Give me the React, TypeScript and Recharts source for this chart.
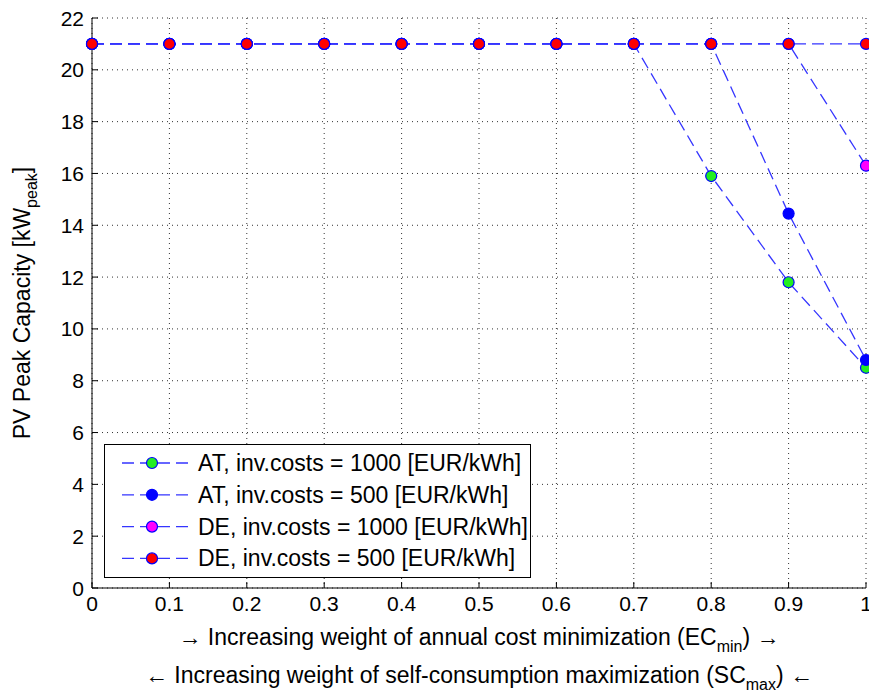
import React from 'react';
import { LineChart, Line, XAxis, YAxis, CartesianGrid, Legend } from 'recharts';

const weights = [0, 0.1, 0.2, 0.3, 0.4, 0.5, 0.6, 0.7, 0.8, 0.9, 1];
const atHigh = [21, 21, 21, 21, 21, 21, 21, 21, 15.9, 11.8, 8.5];
const atLow = [21, 21, 21, 21, 21, 21, 21, 21, 21, 14.45, 8.8];
const deHigh = [21, 21, 21, 21, 21, 21, 21, 21, 21, 21, 16.3];
const deLow = [21, 21, 21, 21, 21, 21, 21, 21, 21, 21, 21];
const yTicks = [0, 2, 4, 6, 8, 10, 12, 14, 16, 18, 20, 22];
const xTickLabels = ['0', '0.1', '0.2', '0.3', '0.4', '0.5', '0.6', '0.7', '0.8', '0.9', '1'];

const series = [
	{ key: 'atHigh', name: 'AT, inv.costs = 1000 [EUR/kWh]', fill: '#22ee22', values: atHigh },
	{ key: 'atLow', name: 'AT, inv.costs = 500 [EUR/kWh]', fill: '#0000ff', values: atLow },
	{ key: 'deHigh', name: 'DE, inv.costs = 1000 [EUR/kWh]', fill: '#ff00ff', values: deHigh },
	{ key: 'deLow', name: 'DE, inv.costs = 500 [EUR/kWh]', fill: '#ff0000', values: deLow },
];

const data = weights.map((w, i) => {
	const row: Record<string, number> = { w };
	series.forEach(s => { row[s.key] = s.values[i]; });
	return row;
});

const FONT = '"Liberation Sans", Arial, sans-serif';
const LINE = '#3535ff';
const TICK_LEN = 6;

const BottomTick = (props: any) => {
	const { x, y, payload, index } = props;
	return (
		<g>
			<line x1={x} y1={y} x2={x} y2={y - TICK_LEN} stroke="#000" />
			<text x={x} y={y + 23} textAnchor="middle" fontSize={21} fontFamily={FONT} fill="#000">
				{xTickLabels[index] ?? payload.value}
			</text>
		</g>
	);
};

const TopTick = (props: any) => {
	const { x, y } = props;
	return <line x1={x} y1={y} x2={x} y2={y + TICK_LEN} stroke="#000" />;
};

const LeftTick = (props: any) => {
	const { x, y, payload } = props;
	return (
		<g>
			<line x1={x} y1={y} x2={x + TICK_LEN} y2={y} stroke="#000" />
			<text x={x - 8} y={y + 7.5} textAnchor="end" fontSize={21} fontFamily={FONT} fill="#000">
				{payload.value}
			</text>
		</g>
	);
};

const RightTick = (props: any) => {
	const { x, y } = props;
	return <line x1={x} y1={y} x2={x - TICK_LEN} y2={y} stroke="#000" />;
};

const XTitle = (props: any) => {
	const { viewBox } = props;
	const cx = viewBox.x + viewBox.width / 2;
	const y0 = viewBox.y;
	return (
		<g fontFamily={FONT} fontSize={23} fill="#000">
			<text x={cx} y={y0 + 57} textAnchor="middle">
				→ Increasing weight of annual cost minimization (EC
				<tspan dy={7} fontSize={16}>min</tspan>
				<tspan dy={-7}>) →</tspan>
			</text>
			<text x={cx} y={y0 + 95} textAnchor="middle">
				← Increasing weight of self-consumption maximization (SC
				<tspan dy={7} fontSize={16}>max</tspan>
				<tspan dy={-7}>) ←</tspan>
			</text>
		</g>
	);
};

const YTitle = (props: any) => {
	const { viewBox } = props;
	const cx = 30;
	const cy = viewBox.y + viewBox.height / 2;
	return (
		<text
			x={cx}
			y={cy}
			textAnchor="middle"
			transform={`rotate(-90, ${cx}, ${cy})`}
			fontFamily={FONT}
			fontSize={23}
			fill="#000"
		>
			PV Peak Capacity [kW
			<tspan dy={7} fontSize={16}>peak</tspan>
			<tspan dy={-7}>]</tspan>
		</text>
	);
};

const Marker = (color: string) => (props: any) => {
	const { cx, cy, index } = props;
	if (cx == null || cy == null) return <g key={index} />;
	return <circle key={index} cx={cx} cy={cy} r={5.5} fill={color} stroke="#0000ff" strokeWidth={1.2} />;
};

const LegendBox = () => (
	<svg width={428} height={135} style={{ display: 'block' }}>
		<rect x={0.5} y={0.5} width={426} height={133} fill="#fff" stroke="#000" />
		{series.map((s, i) => {
			const cy = 19 + i * 31.8;
			return (
				<g key={s.key}>
					<line x1={18} y1={cy} x2={86} y2={cy} stroke={LINE} strokeWidth={1.3} strokeDasharray="12 6" />
					<circle cx={48} cy={cy} r={5.5} fill={s.fill} stroke="#0000ff" strokeWidth={1.2} />
					<text x={94} y={cy + 8} fontFamily={FONT} fontSize={23} fill="#000">{s.name}</text>
				</g>
			);
		})}
	</svg>
);

export default function App() {
	return (
		<div style={{ position: 'absolute', left: 0, top: 0, width: 869, height: 694, background: '#fff' }}>
			<LineChart width={869} height={694} data={data} margin={{ top: 18, right: 3, left: 0, bottom: 0 }}>
				<CartesianGrid stroke="#333" strokeDasharray="1 4" />
				<XAxis
					dataKey="w"
					type="number"
					domain={[0, 1]}
					ticks={weights}
					interval={0}
					height={106}
					tickSize={0}
					tickMargin={0}
					tickLine={false}
					stroke="#000"
					tick={<BottomTick />}
					label={<XTitle />}
				/>
				<XAxis
					xAxisId="top"
					orientation="top"
					dataKey="w"
					type="number"
					domain={[0, 1]}
					ticks={weights}
					interval={0}
					height={0}
					tickSize={0}
					tickMargin={0}
					tickLine={false}
					stroke="#000"
					tick={<TopTick />}
				/>
				<YAxis
					type="number"
					domain={[0, 22]}
					ticks={yTicks}
					interval={0}
					width={92}
					tickSize={0}
					tickMargin={0}
					tickLine={false}
					stroke="#000"
					tick={<LeftTick />}
					label={<YTitle />}
				/>
				<YAxis
					yAxisId="right"
					orientation="right"
					type="number"
					domain={[0, 22]}
					ticks={yTicks}
					interval={0}
					width={0}
					tickSize={0}
					tickMargin={0}
					tickLine={false}
					stroke="#000"
					tick={<RightTick />}
				/>
				{series.map(s => (
					<Line
						key={s.key}
						dataKey={s.key}
						name={s.name}
						type="linear"
						stroke={LINE}
						strokeWidth={1.3}
						strokeDasharray="12 6"
						dot={Marker(s.fill)}
						activeDot={false}
						isAnimationActive={false}
					/>
				))}
				<Legend
					layout="horizontal"
					verticalAlign="middle"
					align="center"
					content={() => <LegendBox />}
					wrapperStyle={{ position: 'absolute', left: 104, top: 444, width: 428, height: 135, bottom: 'auto', right: 'auto' }}
				/>
			</LineChart>
		</div>
	);
}
